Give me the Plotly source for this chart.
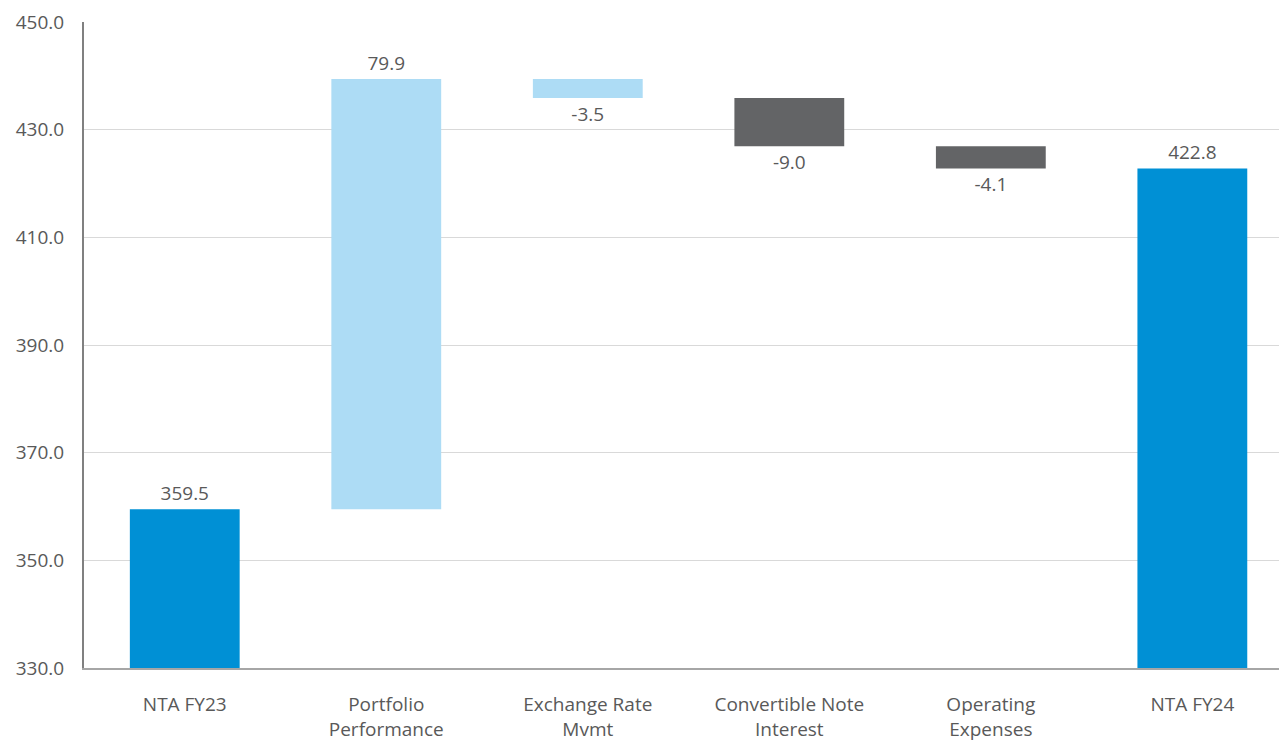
import plotly.graph_objects as go

categories = ["NTA FY23", "Portfolio<br>Performance", "Exchange Rate<br>Mvmt",
              "Convertible Note<br>Interest", "Operating<br>Expenses", "NTA FY24"]
values = [359.5, 79.9, -3.5, -9.0, -4.1, 422.8]
kinds = ["total", "delta", "delta", "delta", "delta", "total"]
colors = ["#0090D5", "#ADDCF5", "#ADDCF5", "#636466", "#636466", "#0090D5"]
labels = ["359.5", "79.9", "-3.5", "-9.0", "-4.1", "422.8"]

bases = []
heights = []
running = 0.0
for v, k in zip(values, kinds):
    if k == "total":
        bases.append(0)
        heights.append(v)
        running = v
    else:
        bases.append(running)
        heights.append(v)
        running += v

fig = go.Figure(go.Bar(
    x=categories, y=heights, base=bases,
    marker=dict(color=colors, line=dict(width=0)),
    width=0.545,
    text=labels, textposition="outside",
    textfont=dict(family="Open Sans", size=19, color="#595959"),
    cliponaxis=False,
))

fig.update_layout(
    width=1279, height=742,
    margin=dict(l=84, r=0, t=22, b=74),
    plot_bgcolor="white", paper_bgcolor="white",
    showlegend=False,
    font=dict(family="Open Sans", size=19, color="#595959"),
)
fig.update_yaxes(
    range=[330, 450], tickvals=[330, 350, 370, 390, 410, 430, 450],
    ticktext=["330.0", "350.0", "370.0", "390.0", "410.0", "430.0", "450.0"],
    showgrid=True, gridcolor="#D9D9D9", gridwidth=1,
    showline=True, linecolor="#808080", linewidth=2,
    ticks="", ticklabelstandoff=14, zeroline=False,
)
fig.update_xaxes(
    range=[-0.5, 5.43],
    showline=True, linecolor="#A6A6A6", linewidth=2,
    ticks="", ticklabelstandoff=18, showgrid=False,
)

fig.write_html("out.html")
